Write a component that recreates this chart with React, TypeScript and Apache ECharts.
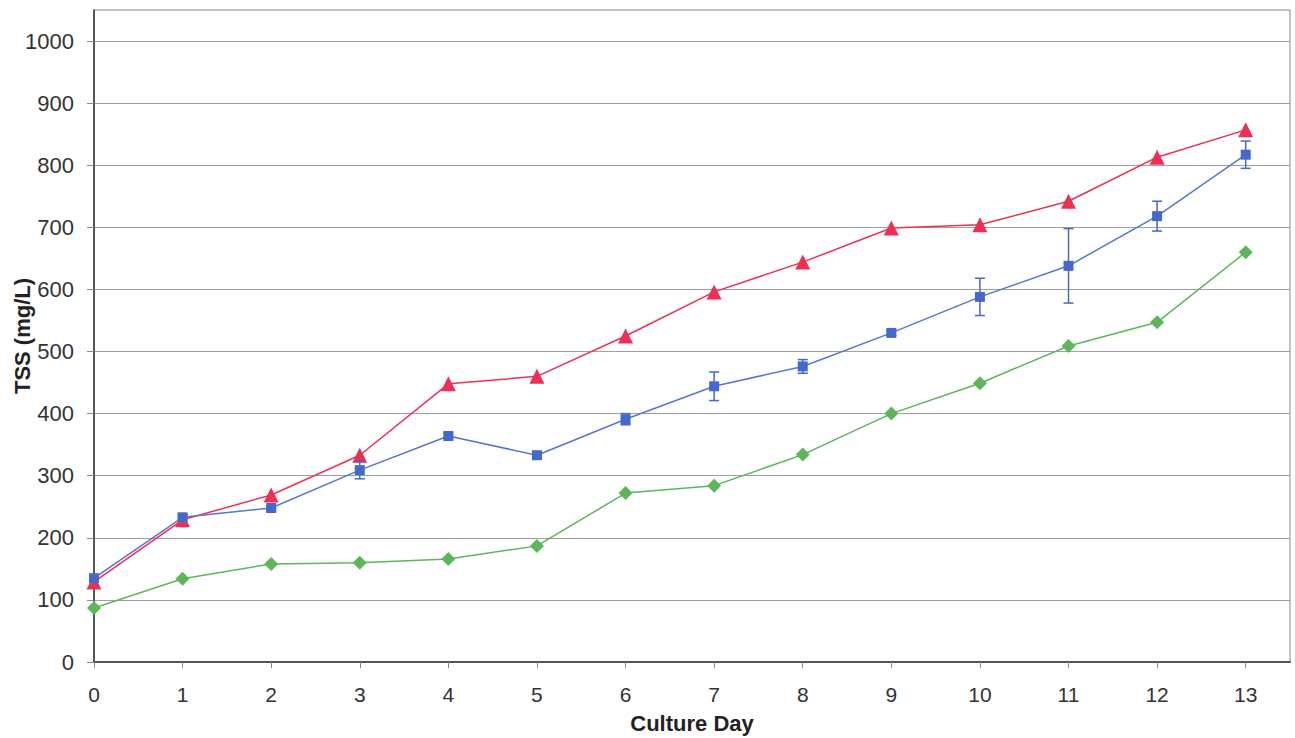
import React, { useEffect, useRef } from "react";
import * as echarts from "echarts";

const days = [0, 1, 2, 3, 4, 5, 6, 7, 8, 9, 10, 11, 12, 13];
const redValues = [129, 229, 269, 333, 448, 460, 525, 596, 644, 699, 704, 742, 813, 857];
const blueValues = [135, 233, 248, 309, 364, 333, 391, 444, 476, 530, 588, 638, 718, 817];
const blueErrors = [4, 4, 4, 14, 4, 4, 9, 23, 11, 4, 30, 60, 24, 22];
const greenValues = [87, 134, 158, 160, 166, 187, 272, 284, 334, 400, 449, 509, 547, 660];
const yTicks = [0, 100, 200, 300, 400, 500, 600, 700, 800, 900, 1000];

const RED = "#EE2F55";
const BLUE = "#4468CC";
const GREEN = "#5DB65B";

export default function App() {
  const ref = useRef<HTMLDivElement>(null);
  useEffect(() => {
    document.body.style.margin = "0";
    if (!ref.current) return;
    const chart = echarts.init(ref.current, null, { renderer: "svg" });
    const pairs = (vals: number[]) => days.map((d, i) => [d, vals[i]]);
    const errData = days.map((d, i) => [d, blueValues[i] - blueErrors[i], blueValues[i] + blueErrors[i]]);
    chart.setOption({
      animation: false,
      backgroundColor: "#ffffff",
      textStyle: { fontFamily: "Liberation Sans, Arial, sans-serif" },
      grid: {
        left: 94,
        right: 5,
        top: 10,
        bottom: 76,
        containLabel: false,
        outerBoundsMode: "none",
        show: true,
        borderColor: "#8a8a8a",
        borderWidth: 1,
      },
      xAxis: {
        type: "value",
        min: 0,
        max: 13.5,
        interval: 1,
        name: "Culture Day",
        nameLocation: "middle",
        nameGap: 50,
        nameMoveOverlap: false,
        nameTextStyle: { fontSize: 22, fontWeight: "bold", color: "#222" },
        axisLine: { show: true, lineStyle: { color: "#555", width: 2 } },
        axisTick: { show: true, length: 6, lineStyle: { color: "#888" }, customValues: days },
        axisLabel: {
          fontSize: 21,
          color: "#333",
          margin: 22,
          customValues: days,
          formatter: (v: number) => (Number.isInteger(v) ? String(v) : ""),
        },
        splitLine: { show: false },
      },
      yAxis: {
        type: "value",
        min: 0,
        max: 1050,
        interval: 100,
        name: "TSS (mg/L)",
        nameLocation: "middle",
        nameGap: 61,
        nameMoveOverlap: false,
        nameTextStyle: { fontSize: 22, fontWeight: "bold", color: "#222" },
        axisLine: { show: true, lineStyle: { color: "#333", width: 1.5 } },
        axisTick: { show: true, length: 7, lineStyle: { color: "#888" }, customValues: yTicks },
        axisLabel: {
          fontSize: 22,
          color: "#333",
          margin: 20,
          customValues: yTicks,
          formatter: (v: number) => (v <= 1000 ? String(v) : ""),
        },
        splitLine: { show: true, lineStyle: { color: "#a0a0a0", width: 1 } },
      },
      series: [
        {
          type: "line",
          name: "green",
          data: pairs(greenValues),
          symbol: "diamond",
          symbolSize: 14,
          itemStyle: { color: GREEN },
          lineStyle: { color: GREEN, width: 1.5 },
          z: 2,
        },
        {
          type: "line",
          name: "red",
          data: pairs(redValues),
          symbol: "triangle",
          symbolSize: 15,
          itemStyle: { color: RED },
          lineStyle: { color: RED, width: 1.5 },
          z: 3,
        },
        {
          type: "custom",
          name: "blueErr",
          data: errData,
          z: 4,
          renderItem: (params: any, api: any) => {
            const x = api.value(0);
            const lo = api.coord([x, api.value(1)]);
            const hi = api.coord([x, api.value(2)]);
            const hw = 5;
            const style = { stroke: BLUE, lineWidth: 1.5 };
            return {
              type: "group",
              children: [
                { type: "line", shape: { x1: lo[0], y1: lo[1], x2: hi[0], y2: hi[1] }, style },
                { type: "line", shape: { x1: lo[0] - hw, y1: lo[1], x2: lo[0] + hw, y2: lo[1] }, style },
                { type: "line", shape: { x1: hi[0] - hw, y1: hi[1], x2: hi[0] + hw, y2: hi[1] }, style },
              ],
            };
          },
        },
        {
          type: "line",
          name: "blue",
          data: pairs(blueValues),
          symbol: "rect",
          symbolSize: 10,
          itemStyle: { color: BLUE },
          lineStyle: { color: "#5577D0", width: 1.5 },
          z: 5,
        },
      ],
    });
    return () => chart.dispose();
  }, []);
  return <div ref={ref} style={{ width: 1295, height: 738 }} />;
}
